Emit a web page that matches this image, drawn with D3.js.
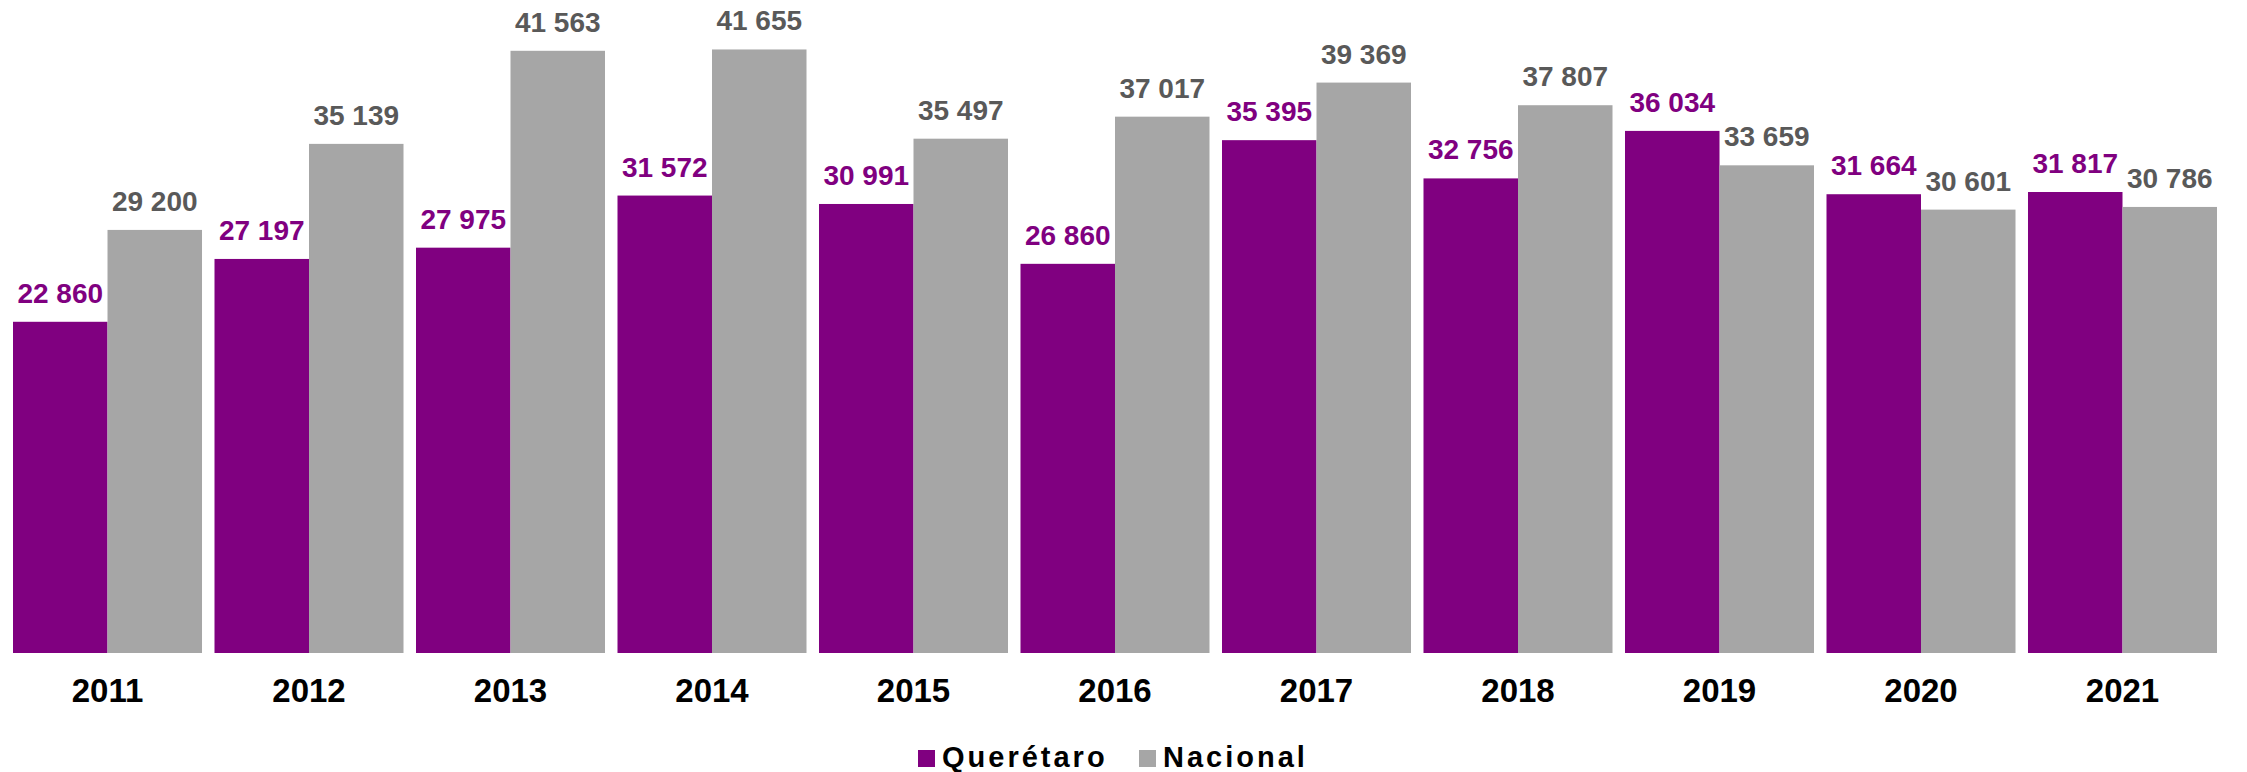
<!DOCTYPE html>
<html>
<head>
<meta charset="utf-8">
<script src="https://cdn.jsdelivr.net/npm/d3@7"></script>
<style>
  html, body { margin: 0; padding: 0; background: #fff; }
  svg { display: block; font-family: "Liberation Sans", Arial, sans-serif; font-weight: bold; }
</style>
</head>
<body>
<div id="chart"></div>
<script>
// data
var years = ['2011', '2012', '2013', '2014', '2015', '2016', '2017', '2018', '2019', '2020', '2021'];
var queretaro = [22860, 27197, 27975, 31572, 30991, 26860, 35395, 32756, 36034, 31664, 31817];
var nacional = [29200, 35139, 41563, 41655, 35497, 37017, 39369, 37807, 33659, 30601, 30786];
var series_names = ['Querétaro', 'Nacional'];

chart_width = 2247;
chart_height = 772;
baseline = 653;

var bar_colors = ['#800080', '#A6A6A6'];
var label_colors = ['#800080', '#595959'];

// thin space style thousands separator
function fmt(v) {
  return d3.format(',')(v).replace(/,/g, ' ');
}

var svg = d3.select('#chart')
  .append('svg')
  .attr('width', chart_width)
  .attr('height', chart_height);

// scales
var x0 = d3.scaleBand()
  .domain(years)
  .range([13, 2217])
  .paddingInner(0.062)
  .paddingOuter(0);

var x1 = d3.scaleBand()
  .domain([0, 1])
  .range([0, x0.bandwidth()]);

var y = d3.scaleLinear()
  .domain([0, 45000])
  .range([baseline, 1]);

var rows = years.map(function(yr, i) {
  return { year: yr, values: [queretaro[i], nacional[i]] };
});

var groups = svg.selectAll('g.year')
  .data(rows)
  .enter()
  .append('g')
  .attr('class', 'year')
  .attr('transform', (d) => 'translate(' + x0(d.year) + ',0)');

var cells = (d) => d.values.map((v, k) => ({ k: k, v: v }));

groups.selectAll('rect')
  .data(cells)
  .enter()
  .append('rect')
  .attr('x', (d) => x1(d.k))
  .attr('y', (d) => y(d.v))
  .attr('width', x1.bandwidth())
  .attr('height', (d) => baseline - y(d.v))
  .attr('fill', (d) => bar_colors[d.k]);

// value labels above bars
groups.selectAll('text.val')
  .data(cells)
  .enter()
  .append('text')
  .attr('class', 'val')
  .text((d) => fmt(d.v))
  .attr('x', (d) => x1(d.k) + x1.bandwidth() / 2)
  .attr('y', (d) => y(d.v) - 19)
  .attr('text-anchor', 'middle')
  .attr('font-size', 28)
  .attr('fill', (d) => label_colors[d.k]);

// category axis labels
var xAxis = svg.append('g')
  .attr('transform', 'translate(0,' + baseline + ')')
  .call(d3.axisBottom(x0).tickSize(0).tickPadding(0));
xAxis.select('.domain').remove();
xAxis.selectAll('text')
  .attr('dy', null)
  .attr('y', 49)
  .attr('font-size', 33)
  .attr('font-family', '"Liberation Sans", Arial, sans-serif')
  .attr('font-weight', 'bold')
  .attr('fill', '#000');

// legend
var legend = svg.append('g').attr('transform', 'translate(918,0)');
var legend_x = [0, 221];
series_names.forEach(function(name, k) {
  legend.append('rect')
    .attr('x', legend_x[k])
    .attr('y', 750)
    .attr('width', 17)
    .attr('height', 17)
    .attr('fill', bar_colors[k]);
  legend.append('text')
    .text(name)
    .attr('x', legend_x[k] + 24)
    .attr('y', 767)
    .attr('font-size', 29)
    .attr('letter-spacing', 3)
    .attr('fill', '#000');
});
</script>
</body>
</html>
